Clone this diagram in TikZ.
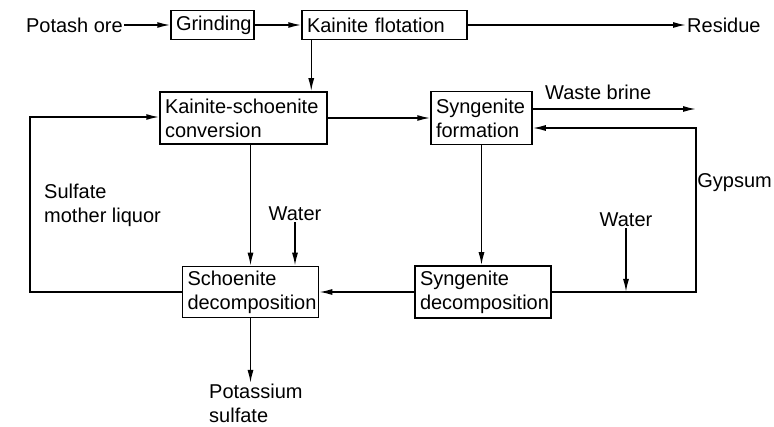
\documentclass[tikz,border=0pt]{standalone}
\usepackage{fontspec}
\setmainfont{Liberation Sans}
\usetikzlibrary{arrows.meta,positioning,calc}
\tikzset{
  unit/.style={draw, line width=1.5pt, align=left, inner xsep=5pt, inner ysep=3pt},
  flow/.style={-{Latex[length=13pt,width=6pt]}, line width=1.5pt},
  lbl/.style={align=left, inner sep=1pt},
}
\begin{document}
\begin{tikzpicture}[x=1pt, y=-1pt, font=\fontsize{20}{24}\selectfont]
  \useasboundingbox (0,0) rectangle (774,427);
  % top row
  \node[lbl, anchor=east] (ore) at (124,25) {Potash ore};
  \node[unit, text width=73pt, minimum height=29pt] (grind) at (212.5,25) {Grinding};
  \node[unit, text width=155pt, minimum height=29pt] (flot) at (384.5,25) {Kainite flotation};
  \node[lbl, anchor=west] (res) at (686,25) {Residue};
  % process units
  \node[unit, text width=157pt, minimum height=52pt] (conv) at (243.5,118) {Kainite-schoenite\\conversion};
  \node[unit, text width=91pt, minimum height=53pt] (synf) at (481.5,118) {Syngenite\\formation};
  \node[unit, text width=126pt, minimum height=52pt] (synd) at (483,292) {Syngenite\\decomposition};
  \node[unit, text width=126pt, minimum height=51pt] (schd) at (250.5,292) {Schoenite\\decomposition};
  % streams
  \node[lbl] (wat1) at (295,214) {Water};
  \node[lbl] (wat2) at (626,220) {Water};
  \node[lbl, anchor=west] (brine) at (544,92) {Waste brine};
  \node[lbl, anchor=east] (gyps) at (773,183) {Gypsum};
  \node[lbl, anchor=west] (liq) at (43,205) {Sulfate\\mother liquor};
  \node[lbl, anchor=north west] (kso) at (208,383) {Potassium\\sulfate};
  \coordinate (brend) at (696,109);
  \coordinate (gyc) at (696,292);
  \coordinate (liqc) at (30,292);

  \draw[flow] (ore) -- (grind);
  \draw[flow] (grind) -- (flot);
  \draw[flow] (flot) -- (res);
  \draw[flow] ([xshift=10pt]flot.south west) -- ([xshift=10pt]flot.south west |- conv.north);
  \draw[flow] (conv) -- (synf);
  \draw[flow] (schd.north |- conv.south) -- (schd.north);
  \draw[flow] (wat1.south) -- (wat1.south |- schd.north);
  \draw[flow] (synf.south) -- (synf.south |- synd.north);
  \draw[flow] (synd) -- (schd);
  \draw[flow] (schd.south) -- (schd.south |- kso.north);
  \draw[flow] ([yshift=9pt]synf.east) -- ([yshift=9pt]synf.east -| brend);
  \draw[flow] (synd.east) -- (gyc) |- ([yshift=-10pt]synf.east);
  \draw[flow] (wat2.south) -- (wat2.south |- gyc);
  \draw[flow] (schd.west) -- (liqc) |- ([yshift=1pt]conv.west);
\end{tikzpicture}
\end{document}
